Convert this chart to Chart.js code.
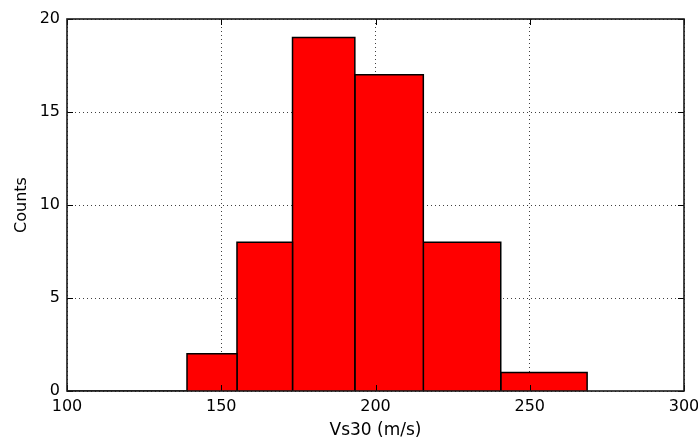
<!DOCTYPE html>
<html>
<head>
<meta charset="utf-8">
<script src="https://cdn.jsdelivr.net/npm/chart.js"></script>
<style>
  html, body { margin: 0; padding: 0; background: #fff; }
  #wrap { width: 698px; height: 441px; }
</style>
</head>
<body>
<div id="wrap"><canvas id="histChart" width="698" height="441"></canvas></div>
<script>
// Histogram bins (log spaced)
const binEdges = [100, 111.5, 124.5, 138.9, 155.1, 173.1, 193.3, 215.5, 240.6, 268.6];
const binCounts = [0, 0, 0, 2, 8, 19, 17, 8, 1];
const xTicks = [100, 150, 200, 250, 300];
const yTicks = [0, 5, 10, 15, 20];

// One closed outline per bar so the edges between bars are drawn
const barDatasets = binCounts.map((count, i) => ({
  type: 'line',
  data: [
    { x: binEdges[i], y: 0 },
    { x: binEdges[i], y: count },
    { x: binEdges[i + 1], y: count },
    { x: binEdges[i + 1], y: 0 }
  ],
  fill: 'origin',
  backgroundColor: '#ff0000',
  borderColor: '#000000',
  borderWidth: 1.5,
  pointRadius: 0,
  tension: 0
}));

// Frame and inward tick marks, like matplotlib classic
const frameTicks = {
  id: 'frameTicks',
  afterDraw(chart) {
    const { ctx, chartArea: a, scales } = chart;
    ctx.save();
    ctx.strokeStyle = '#000';
    ctx.lineWidth = 1;
    const len = 6;
    ctx.beginPath();
    xTicks.forEach(v => {
      const px = Math.round(scales.x.getPixelForValue(v)) + 0.5;
      ctx.moveTo(px, a.bottom); ctx.lineTo(px, a.bottom - len);
      ctx.moveTo(px, a.top); ctx.lineTo(px, a.top + len);
    });
    yTicks.forEach(v => {
      const py = Math.round(scales.y.getPixelForValue(v)) + 0.5;
      ctx.moveTo(a.left, py); ctx.lineTo(a.left + len, py);
      ctx.moveTo(a.right, py); ctx.lineTo(a.right - len, py);
    });
    ctx.stroke();
    ctx.lineWidth = 1.6;
    ctx.strokeStyle = '#1a1a1a';
    ctx.strokeRect(a.left, a.top, a.right - a.left, a.bottom - a.top);
    ctx.restore();
  }
};

const font = { family: 'DejaVu Sans', size: 16 };

new Chart(document.getElementById('histChart'), {
  type: 'scatter',
  data: { datasets: barDatasets },
  options: {
    responsive: false,
    animation: false,
    layout: { padding: { top: 19, right: 14, left: 0, bottom: 0 } },
    plugins: { legend: { display: false }, tooltip: { enabled: false } },
    scales: {
      x: {
        type: 'linear',
        min: 100,
        max: 300,
        z: 1,
        afterBuildTicks: s => { s.ticks = xTicks.map(v => ({ value: v })); },
        afterFit: s => { s.height = 50; s.paddingLeft = 0; s.paddingRight = 0; },
        ticks: { color: '#000', font: font, padding: 6, maxRotation: 0 },
        grid: { color: 'rgba(0,0,0,0.75)', lineWidth: 1, drawTicks: false },
        border: { display: false, dash: [1, 3] },
        title: { display: true, text: 'Vs30 (m/s)', color: '#000', font: { family: 'DejaVu Sans', size: 17 }, padding: { top: 0, bottom: 0 } }
      },
      y: {
        type: 'linear',
        min: 0,
        max: 20,
        z: 1,
        afterBuildTicks: s => { s.ticks = yTicks.map(v => ({ value: v })); },
        afterFit: s => { s.width = 67; s.paddingTop = 0; s.paddingBottom = 0; },
        ticks: { color: '#000', font: font, padding: 7 },
        grid: { color: 'rgba(0,0,0,0.75)', lineWidth: 1, drawTicks: false },
        border: { display: false, dash: [1, 3] },
        title: { display: true, text: 'Counts', color: '#000', font: font, padding: { top: 12, bottom: 0 } }
      }
    }
  },
  plugins: [frameTicks]
});
</script>
</body>
</html>
